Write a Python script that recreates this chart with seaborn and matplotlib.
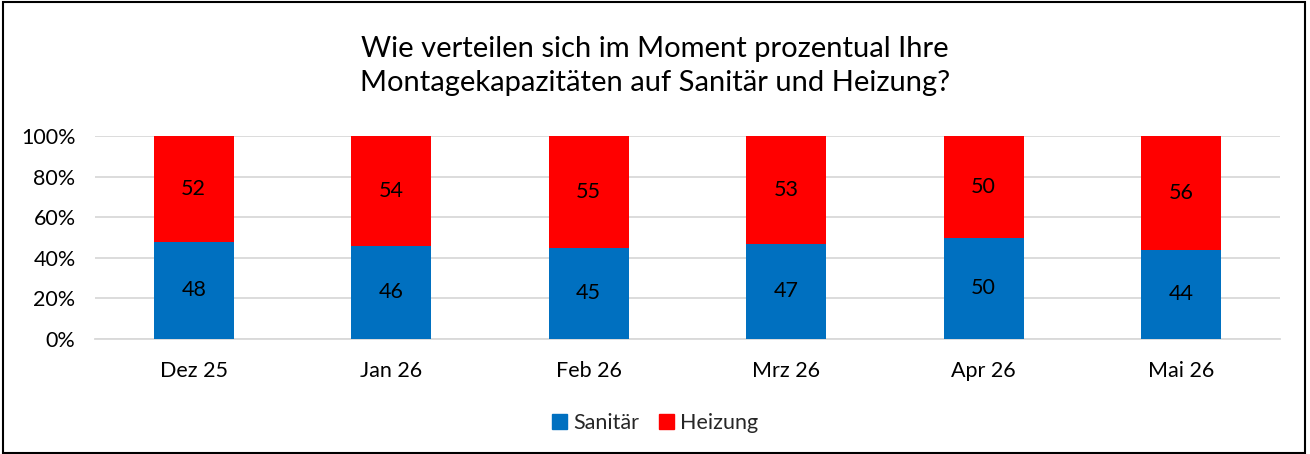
import matplotlib
matplotlib.use("Agg")
import matplotlib.pyplot as plt
import matplotlib.patches as mpatches
import pandas as pd
import seaborn as sns

months = ["Dez 25", "Jan 26", "Feb 26", "Mrz 26", "Apr 26", "Mai 26"]
sanitaer = [48, 46, 45, 47, 50, 44]
heizung = [52, 54, 55, 53, 50, 56]

BLUE = "#0070C0"
RED = "#FF0000"

sns.set_theme(style="white")
plt.rcParams["font.family"] = ["Lato", "DejaVu Sans"]

df = pd.DataFrame({"monat": months, "Sanitär": sanitaer, "Heizung": heizung})
df["total"] = df["Sanitär"] + df["Heizung"]
df["san_pct"] = df["Sanitär"] / df["total"] * 100
df["top_pct"] = 100.0

fig = plt.figure(figsize=(13.1, 4.54), dpi=100)
ax = fig.add_axes([0.0725, 0.2533, 0.9045, 0.4471])

# stacked: full bar in red, Sanitär share in blue on top
sns.barplot(data=df, x="monat", y="top_pct", color=RED, width=0.405,
            saturation=1, linewidth=0, ax=ax, zorder=3)
sns.barplot(data=df, x="monat", y="san_pct", color=BLUE, width=0.405,
            saturation=1, linewidth=0, ax=ax, zorder=4)

for i, row in df.iterrows():
    ax.text(i, row["san_pct"] / 2, f"{row['Sanitär']:d}", ha="center", va="center",
            fontsize=15.5, color="black", zorder=5)
    ax.text(i, row["san_pct"] + (100 - row["san_pct"]) / 2, f"{row['Heizung']:d}",
            ha="center", va="center", fontsize=15.5, color="black", zorder=5)

ax.set_ylim(0, 100)
ax.set_xlim(-0.5, len(months) - 0.5)
ax.set_yticks([0, 20, 40, 60, 80, 100])
ax.set_yticklabels([f"{v}%" for v in [0, 20, 40, 60, 80, 100]])
ax.yaxis.grid(True, color="#D9D9D9", linewidth=1.3, zorder=0)
ax.set_axisbelow(True)
ax.set_xlabel("")
ax.set_ylabel("")
ax.tick_params(axis="y", length=0, pad=14, labelsize=15.5, colors="black")
ax.tick_params(axis="x", length=0, pad=16, labelsize=15.5, colors="black")
for s in ["top", "right", "left"]:
    ax.spines[s].set_visible(False)
ax.spines["bottom"].set_color("#D9D9D9")
ax.spines["bottom"].set_linewidth(1.3)

fig.text(0.5, 0.855, "Wie verteilen sich im Moment prozentual Ihre\nMontagekapazitäten auf Sanitär und Heizung?",
         ha="center", va="center", fontsize=21, color="black", linespacing=1.4)

handles = [mpatches.Patch(color=BLUE, label="Sanitär"),
           mpatches.Patch(color=RED, label="Heizung")]
fig.legend(handles=handles, loc="center", bbox_to_anchor=(0.5, 0.068), ncol=2,
           frameon=False, fontsize=15.5, handlelength=0.7, handleheight=0.7,
           handletextpad=0.3, columnspacing=0.9)

fig.add_artist(mpatches.Rectangle((0.002, 0.002), 0.994, 0.994, transform=fig.transFigure,
                                  fill=False, edgecolor="black", linewidth=1.5))

fig.savefig("out.png", dpi=100)
